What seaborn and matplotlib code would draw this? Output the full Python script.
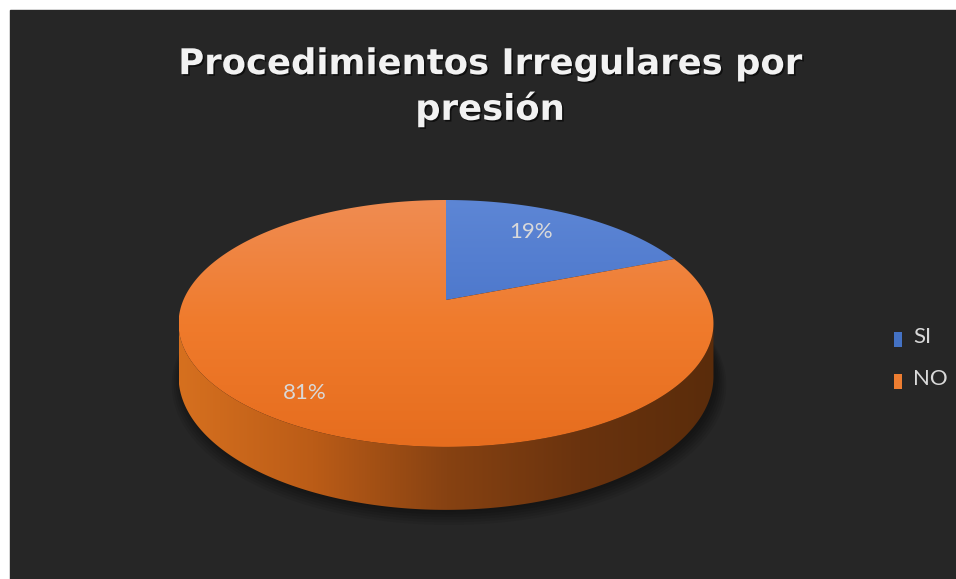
import numpy as np
import matplotlib
matplotlib.use("Agg")
import matplotlib.pyplot as plt
import seaborn as sns
from matplotlib.patches import Polygon, Rectangle, Patch
from matplotlib.colors import LinearSegmentedColormap
import matplotlib.patheffects as pe

# ---- data -------------------------------------------------------------
categories = ["SI", "NO"]
shares = [19, 81]
title_text = "Procedimientos Irregulares por\npresión"

# ---- style ------------------------------------------------------------
sns.set_theme(style="dark")
plt.rcParams["font.family"] = ["Lato", "DejaVu Sans"]
BG = "#262626"
TEXT = "#D9D9D9"
base_colors = sns.color_palette(["#4472C4", "#ED7D31"])

# top-face vertical gradients and side horizontal gradients per slice
top_stops = {
    "SI": ["#5D86D5", "#4B76CB", "#3A66C0"],
    "NO": ["#EF8C52", "#F07B2C", "#E66D1E"],
}
side_stops = {
    "SI": ["#3D68B8", "#2F5294", "#213B6C"],
    "NO": ["#D6701F", "#BB5C17", "#874212", "#6A330E", "#5A2C0B"],
}

W, H = 956, 579
fig = plt.figure(figsize=(W / 100, H / 100), dpi=100, facecolor="white")
ax = fig.add_axes([0, 0, 1, 1])
ax.set_xlim(0, W)
ax.set_ylim(H, 0)
ax.axis("off")
ax.add_patch(Rectangle((10, 10), W, H, color=BG, zorder=0))

# ---- perspective disc geometry ---------------------------------------
CX, CY = 446.0, 300.0      # pie centre on screen
A, B = 119.0, 262.6        # depth / width scale of the disc
K = 0.19                   # perspective strength
DEPTH = 51.0               # thickness of the cylinder


def project(phi, r=1.0, drop=0.0):
    """phi: clockwise angle from 12 o'clock (radians)."""
    u = r * np.sin(phi)
    v = -r * np.cos(phi)
    den = 1.0 - K * v
    return CX + B * u / den, CY + (A * v + drop) / den


def gradient_fill(xy, colors, horizontal, extent, zorder):
    patch = Polygon(xy, closed=True, facecolor="none", edgecolor="none", zorder=zorder)
    ax.add_patch(patch)
    cmap = LinearSegmentedColormap.from_list("g", colors)
    g = np.linspace(0, 1, 256)
    grad = g.reshape(1, -1) if horizontal else g.reshape(-1, 1)
    im = ax.imshow(grad, cmap=cmap, extent=extent, origin="upper",
                   aspect="auto", zorder=zorder, interpolation="bilinear")
    im.set_clip_path(patch)


total = float(sum(shares))
bounds = np.concatenate([[0.0], np.cumsum(shares) / total * 2 * np.pi])

full = np.linspace(0, 2 * np.pi, 400)
rx_top, ry_top = project(full)
rx_bot, ry_bot = project(full, drop=DEPTH)
x_min, x_max = rx_top.min(), rx_top.max()
y_min, y_max = ry_top.min(), ry_top.max()

# soft drop shadow under the cylinder
for i in range(6):
    sx, sy = project(full, r=1.0 + 0.007 * i, drop=DEPTH + 1.5 + 1.0 * i)
    ax.add_patch(Polygon(np.column_stack([sx + 3, sy]), closed=True,
                         facecolor="black", edgecolor="none", alpha=0.08, zorder=1))

# side walls (only the front half is visible)
vis_lo = np.pi - np.arccos(K)          # right silhouette
vis_hi = np.pi + np.arccos(K)          # left silhouette
for cat, a0, a1 in zip(categories, bounds[:-1], bounds[1:]):
    lo, hi = max(a0, vis_lo), min(a1, vis_hi)
    if hi <= lo:
        continue
    ph = np.linspace(lo, hi, 200)
    tx, ty = project(ph)
    bx, by = project(ph, drop=DEPTH)
    xy = np.column_stack([np.concatenate([tx, bx[::-1]]),
                          np.concatenate([ty, by[::-1]])])
    gradient_fill(xy, side_stops[cat], True,
                  (x_min, x_max, ry_bot.max(), y_min), zorder=2)

# top face wedges
for cat, a0, a1 in zip(categories, bounds[:-1], bounds[1:]):
    ph = np.linspace(a0, a1, 300)
    tx, ty = project(ph)
    xy = np.column_stack([np.concatenate([[CX], tx]), np.concatenate([[CY], ty])])
    gradient_fill(xy, top_stops[cat], False, (x_min, x_max, y_max, y_min), zorder=3)

# percentage labels
label_xy = [(531, 232), (305, 393)]
for share, (lx, ly) in zip(shares, label_xy):
    ax.text(lx, ly, f"{share / total * 100:.0f}%", color=TEXT, fontsize=16,
            ha="center", va="center", zorder=5)

# title
fig.text(490 / W, 1 - 87 / H, title_text, ha="center", va="center",
         family=["DejaVu Sans"], fontweight="bold", fontsize=25.5,
         color="#F2F2F2", linespacing=1.36,
         path_effects=[pe.withSimplePatchShadow(offset=(1.2, -1.2), shadow_rgbFace="black", alpha=0.6)])

# legend
handles = [Patch(facecolor=c, edgecolor="none") for c in base_colors]
leg = ax.legend(handles, categories, loc="center left",
                bbox_to_anchor=(894 / W, 1 - 358 / H), bbox_transform=fig.transFigure,
                frameon=False, fontsize=16, handlelength=0.36, handleheight=0.63,
                handletextpad=0.5, labelspacing=1.0, borderpad=0, borderaxespad=0)
for t in leg.get_texts():
    t.set_color(TEXT)
for h in leg.legend_handles:
    h.set_y(h.get_y() - 3)

ax.set_xlim(0, W)
ax.set_ylim(H, 0)
fig.savefig("out.png", dpi=100, facecolor="white")
